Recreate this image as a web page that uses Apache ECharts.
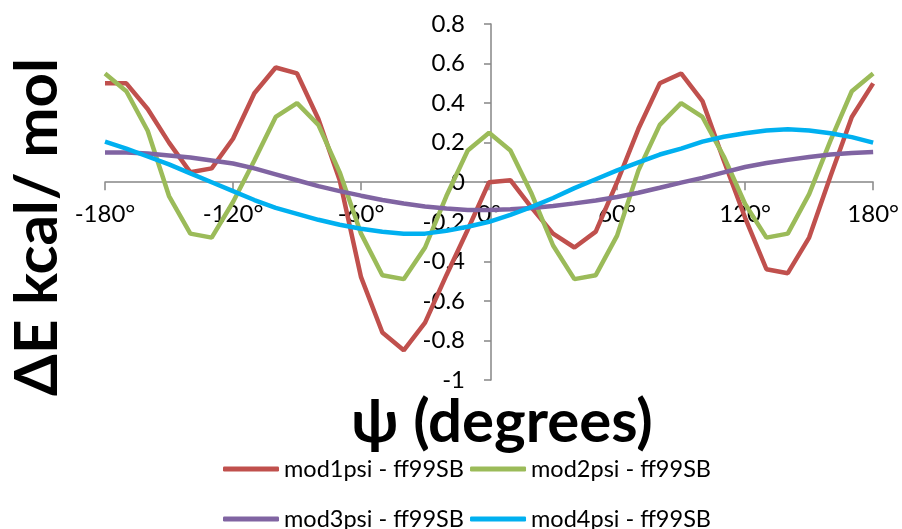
<!DOCTYPE html>
<html>
<head>
<meta charset="utf-8">
<title>psi scan</title>
<script src="https://cdn.jsdelivr.net/npm/echarts@6/dist/echarts.min.js"></script>
<style>
    html, body { margin: 0; padding: 0; background: #fff; }
    #main { width: 902px; height: 529px; }
</style>
</head>
<body>
<div id="main"></div>
<script>
// 二面角 psi (度)
var psi = [-180, -170, -160, -150, -140, -130, -120, -110, -100, -90, -80, -70, -60, -50, -40, -30, -20, -10,
    0, 10, 20, 30, 40, 50, 60, 70, 80, 90, 100, 110, 120, 130, 140, 150, 160, 170, 180];

// 各参数的能量差
var mod1 = [0.50, 0.50, 0.37, 0.20, 0.05, 0.07, 0.22, 0.45, 0.58, 0.55, 0.32, 0.01, -0.48, -0.76, -0.85, -0.71, -0.47, -0.24,
    0.00, 0.01, -0.13, -0.26, -0.33, -0.25, 0.00, 0.27, 0.50, 0.55, 0.41, 0.11, -0.18, -0.44, -0.46, -0.28, 0.03, 0.33, 0.50];
var mod2 = [0.55, 0.46, 0.26, -0.07, -0.26, -0.28, -0.10, 0.11, 0.33, 0.40, 0.29, 0.05, -0.26, -0.47, -0.49, -0.33, -0.07, 0.16,
    0.25, 0.16, -0.06, -0.32, -0.49, -0.47, -0.27, 0.06, 0.29, 0.40, 0.33, 0.13, -0.11, -0.28, -0.26, -0.06, 0.21, 0.46, 0.55];
var mod3 = [0.15, 0.15, 0.145, 0.135, 0.125, 0.11, 0.095, 0.07, 0.04, 0.01, -0.02, -0.045, -0.068, -0.09, -0.108, -0.123, -0.133, -0.14,
    -0.14, -0.137, -0.13, -0.12, -0.107, -0.092, -0.075, -0.053, -0.028, -0.002, 0.022, 0.05, 0.077, 0.097, 0.113, 0.128, 0.14, 0.148, 0.153];
var mod4 = [0.205, 0.17, 0.13, 0.09, 0.045, 0.0, -0.045, -0.09, -0.13, -0.16, -0.19, -0.215, -0.235, -0.25, -0.26, -0.26, -0.245, -0.225,
    -0.2, -0.165, -0.125, -0.08, -0.03, 0.015, 0.06, 0.1, 0.14, 0.17, 0.205, 0.23, 0.248, 0.262, 0.268, 0.262, 0.248, 0.228, 0.2];

var names = ['mod1psi - ff99SB', 'mod2psi - ff99SB', 'mod3psi - ff99SB', 'mod4psi - ff99SB'];
var colors = ['#C0504D', '#9BBB59', '#8064A2', '#00B0F0'];

var font = 'Lato, "Noto Sans", sans-serif';

// 坐标范围
var xMin = -180, xMax = 180;
var yMin = -1, yMax = 0.8;

// 绘图区 (像素)
var W = 902, H = 529;
var gLeft = 105, gRight = 25, gTop = 24, gBottom = 149;
var gW = W - gLeft - gRight;
var gH = H - gTop - gBottom;

// 坐标轴交叉在 (0, 0)：用 offset 把轴从边上移到零点
var xOffset = -(gH * (0 - yMin) / (yMax - yMin));
var yOffset = -(gW * (0 - xMin) / (xMax - xMin));

// 把 x 和 y 拼成 [x, y]
function pairs(ys) {
    var out = [];
    for (var i = 0; i < psi.length; i++) {
        out.push([psi[i], ys[i]]);
    }
    return out;
}

var series = [];
var all = [mod1, mod2, mod3, mod4];
for (var k = 0; k < all.length; k++) {
    series.push({
        name: names[k],
        type: 'line',
        data: pairs(all[k]),
        symbol: 'none',
        smooth: false,
        lineStyle: { color: colors[k], width: 4.5 },
        itemStyle: { color: colors[k] }
    });
}

var myChart = echarts.init(document.getElementById('main'));

var legendCommon = {
    left: 218,
    icon: 'roundRect',
    itemWidth: 56,
    itemHeight: 5,
    itemGap: 6,
    textStyle: { fontFamily: font, fontSize: 23.5, color: '#000' }
};

var axisGrey = { color: '#868686', width: 1.5 };

var option = {
    animation: false,
    grid: { left: gLeft, right: gRight, top: gTop, bottom: gBottom },
    legend: [
        Object.assign({ top: 452, data: [names[0], names[1]] }, legendCommon),
        Object.assign({ top: 502, data: [names[2], names[3]] }, legendCommon)
    ],
    xAxis: {
        type: 'value',
        min: xMin,
        max: xMax,
        interval: 60,
        offset: xOffset,
        axisLine: { onZero: false, lineStyle: axisGrey },
        axisTick: { show: true, length: 8, lineStyle: axisGrey },
        axisLabel: {
            margin: 20,
            color: '#000',
            fontFamily: font,
            fontSize: 24,
            formatter: function (v) { return v + '°'; }
        },
        splitLine: { show: false }
    },
    yAxis: {
        type: 'value',
        min: yMin,
        max: yMax,
        interval: 0.2,
        offset: yOffset,
        axisLine: { show: true, onZero: false, lineStyle: axisGrey },
        axisTick: { show: true, length: 7, lineStyle: axisGrey },
        axisLabel: { margin: 26, color: '#000', fontFamily: font, fontSize: 24 },
        splitLine: { show: false }
    },
    graphic: [
        {
            type: 'text',
            x: 502,
            y: 423,
            style: {
                text: 'ψ (degrees)',
                font: 'bold 60px ' + font,
                fill: '#000',
                textAlign: 'center',
                textVerticalAlign: 'middle'
            }
        },
        {
            type: 'text',
            x: 38,
            y: 227,
            rotation: Math.PI / 2,
            style: {
                text: 'ΔE kcal/ mol',
                font: 'bold 60px ' + font,
                fill: '#000',
                textAlign: 'center',
                textVerticalAlign: 'middle'
            }
        }
    ],
    series: series
};

myChart.setOption(option);
</script>
</body>
</html>
